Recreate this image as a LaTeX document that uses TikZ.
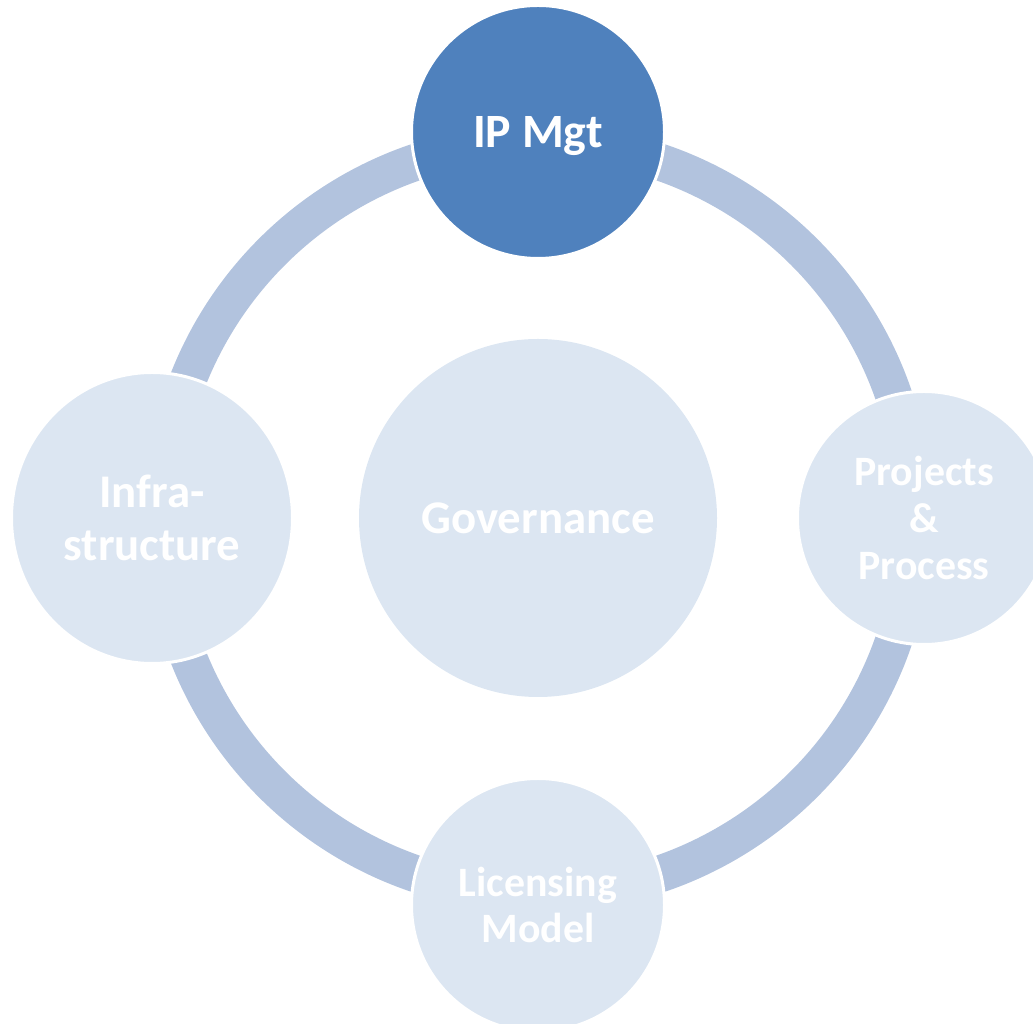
\documentclass[tikz,border=0pt]{standalone}
\usepackage{fontspec}
\setmainfont{Carlito}
\usetikzlibrary{shapes.geometric,backgrounds}
\definecolor{ipblue}{HTML}{4F81BD}
\definecolor{ringblue}{HTML}{B2C3DE}
\definecolor{paleblue}{HTML}{DCE6F2}
\tikzset{
    spoke/.style={circle,fill=paleblue,draw=white,line width=3bp,inner sep=0pt,
        text=white,align=center,minimum size=253bp,
        font=\bfseries\fontsize{42}{47}\selectfont},
    ring/.style={ringblue,line width=37bp},
}
\begin{document}
\begin{tikzpicture}[x=1bp,y=1bp]
    \useasboundingbox (0,0) rectangle (1033,1024);
    \node[spoke,draw=none,minimum size=358bp,
        font=\bfseries\fontsize{47}{52}\selectfont] (gov) at (538,506) {Governance};
    \node[spoke,fill=ipblue,text depth=0pt,
        font=\bfseries\fontsize{48}{54}\selectfont] (ipmgt) at (538,892) {IP Mgt};
    \node[spoke] (proj) at (924,506) {Projects\\\&\\Process};
    \node[spoke] (lic) at (538,119) {Licensing\\Model};
    \node[spoke,ellipse,minimum width=281bp,minimum height=291bp,
        font=\bfseries\fontsize{47}{53}\selectfont] (infra) at (152,506) {Infra-\\structure};
    % points of the ring behind the four outer circles
    \coordinate (ringN) at ([yshift=376bp]gov.center);
    \coordinate (ringE) at ([xshift=376bp]gov.center);
    \coordinate (ringS) at ([yshift=-376bp]gov.center);
    \coordinate (ringW) at ([xshift=-376bp]gov.center);
    \begin{scope}[on background layer]
        \draw[ring] (ringN) to[out=0,in=90] (ringE);
        \draw[ring] (ringE) to[out=-90,in=0] (ringS);
        \draw[ring] (ringS) to[out=180,in=-90] (ringW);
        \draw[ring] (ringW) to[out=90,in=180] (ringN);
    \end{scope}
\end{tikzpicture}
\end{document}
